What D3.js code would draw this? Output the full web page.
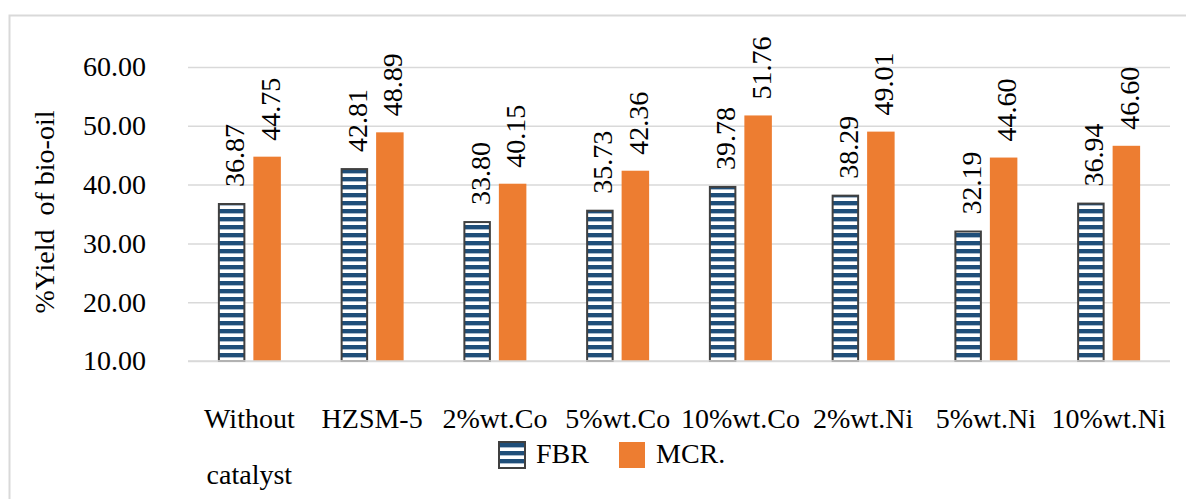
<!DOCTYPE html>
<html>
<head>
<meta charset="utf-8">
<script src="https://cdn.jsdelivr.net/npm/d3@7"></script>
<style>
  html, body { margin: 0; padding: 0; background: #fff; }
  svg text { font-family: "Liberation Serif", "Times New Roman", serif; fill: #000; }
</style>
</head>
<body>
<svg id="chart" width="1186" height="499"></svg>
<script>
// Catalyst conditions (first one wraps onto two lines)
const categories = ["Without\ncatalyst", "HZSM-5", "2%wt.Co", "5%wt.Co", "10%wt.Co", "2%wt.Ni", "5%wt.Ni", "10%wt.Ni"];
const seriesNames = ["FBR", "MCR."];
const fbrValues = [36.87, 42.81, 33.80, 35.73, 39.78, 38.29, 32.19, 36.94];
const mcrValues = [44.75, 48.89, 40.15, 42.36, 51.76, 49.01, 44.60, 46.60];
const yTicks = [10, 20, 30, 40, 50, 60];
const yTitle = "%Yield\u00a0 of bio-oil";

const svg = d3.select("#chart");
const FONT = "28px";
const SERIF = "'Liberation Serif', 'Times New Roman', serif";
const navy = "#1f4e79", orange = "#ed7d31", outline = "#404040", grid = "#d9d9d9";

const plot = { left: 188, right: 1170, top: 67, bottom: 361 };

// Stripe fill for FBR bars
const defs = svg.append("defs");
const pat = defs.append("pattern")
  .attr("id", "stripes")
  .attr("patternUnits", "userSpaceOnUse")
  .attr("width", 8).attr("height", 8)
  .attr("y", 1);
pat.append("rect").attr("width", 8).attr("height", 8).attr("fill", "#ffffff");
pat.append("rect").attr("y", 0).attr("width", 8).attr("height", 4.2).attr("fill", navy);
pat.append("rect").attr("y", 4.2).attr("width", 8).attr("height", 0.8).attr("fill", "#9fb3c8");

// Outer chart frame
svg.append("rect")
  .attr("x", 9.5).attr("y", 15.5)
  .attr("width", 1200).attr("height", 600)
  .attr("fill", "none").attr("stroke", grid).attr("stroke-width", 2);

const x = d3.scaleBand().domain(categories).range([plot.left, plot.right]).padding(0);
const xs = d3.scaleBand().domain(seriesNames).range([0, x.bandwidth()])
  .paddingInner(0.225).paddingOuter(0.842);
const y = d3.scaleLinear().domain([10, 60]).range([plot.bottom, plot.top]);

// Gridlines and tick labels
const yAxis = d3.axisLeft(y).tickValues(yTicks).tickFormat(d3.format(".2f"))
  .tickSize(-(plot.right - plot.left)).tickPadding(42);
const gy = svg.append("g").attr("transform", `translate(${plot.left},0)`).call(yAxis);
gy.select(".domain").remove();
gy.selectAll(".tick line").attr("stroke", grid).attr("stroke-width", 1.5);
gy.selectAll(".tick text")
  .style("font-size", FONT)
  .style("font-family", SERIF)
  .attr("fill", "#000")
  .attr("dy", "0.32em");

// Bars
const data = categories.map((c, i) => ({ cat: c, values: [fbrValues[i], mcrValues[i]] }));
const groups = svg.append("g").selectAll("g").data(data).join("g")
  .attr("transform", d => `translate(${x(d.cat)},0)`);

groups.selectAll("rect").data(d => d.values.map((v, j) => ({ s: seriesNames[j], v })))
  .join("rect")
  .attr("x", d => xs(d.s) + (d.s === "FBR" ? 1 : 0))
  .attr("y", d => y(d.v) + (d.s === "FBR" ? 1 : 0))
  .attr("width", d => xs.bandwidth() - (d.s === "FBR" ? 2 : 0))
  .attr("height", d => y(10) - y(d.v) - (d.s === "FBR" ? 1 : 0))
  .attr("fill", d => d.s === "FBR" ? "url(#stripes)" : orange)
  .attr("stroke", d => d.s === "FBR" ? outline : "none")
  .attr("stroke-width", 2);

// Value labels, rotated above each bar
groups.selectAll("text.val").data(d => d.values.map((v, j) => ({ s: seriesNames[j], v })))
  .join("text")
  .attr("class", "val")
  .style("font-size", FONT)
  .style("font-family", SERIF)
  .attr("dominant-baseline", "central")
  .attr("transform", d => `translate(${xs(d.s) + xs.bandwidth() / 2 + 3},${y(d.v) - 16}) rotate(-90)`)
  .text(d => d.v.toFixed(2));

// Baseline
svg.append("line")
  .attr("x1", plot.left).attr("x2", plot.right)
  .attr("y1", plot.bottom).attr("y2", plot.bottom)
  .attr("stroke", grid).attr("stroke-width", 1.5);

// Category labels
const cl = svg.append("g").selectAll("text").data(categories).join("text")
  .style("font-size", FONT)
  .style("font-family", SERIF)
  .attr("text-anchor", "middle")
  .attr("x", d => x(d) + x.bandwidth() / 2)
  .attr("y", 428);
cl.selectAll("tspan").data(d => d.split("\n")).join("tspan")
  .attr("x", function () { return d3.select(this.parentNode).attr("x"); })
  .attr("dy", (d, i) => i === 0 ? 0 : 56)
  .text(d => d);

// Y axis title
svg.append("text")
  .style("font-size", FONT)
  .style("font-family", SERIF)
  .attr("text-anchor", "middle")
  .attr("dominant-baseline", "central")
  .attr("transform", "translate(44,212) rotate(-90)")
  .text(yTitle);

// Legend
const legend = [
  { name: seriesNames[0], fill: "url(#stripes)", stroke: outline, x: 499 },
  { name: seriesNames[1], fill: orange, stroke: "none", x: 619 }
];
const lg = svg.append("g").selectAll("g").data(legend).join("g")
  .attr("transform", d => `translate(${d.x},442)`);
lg.append("rect")
  .attr("width", 26).attr("height", 26)
  .attr("fill", d => d.fill).attr("stroke", d => d.stroke).attr("stroke-width", 2);
lg.append("text")
  .style("font-size", FONT)
  .style("font-family", SERIF)
  .attr("x", 37)
  .attr("y", 21)
  .text(d => d.name);
</script>
</body>
</html>
